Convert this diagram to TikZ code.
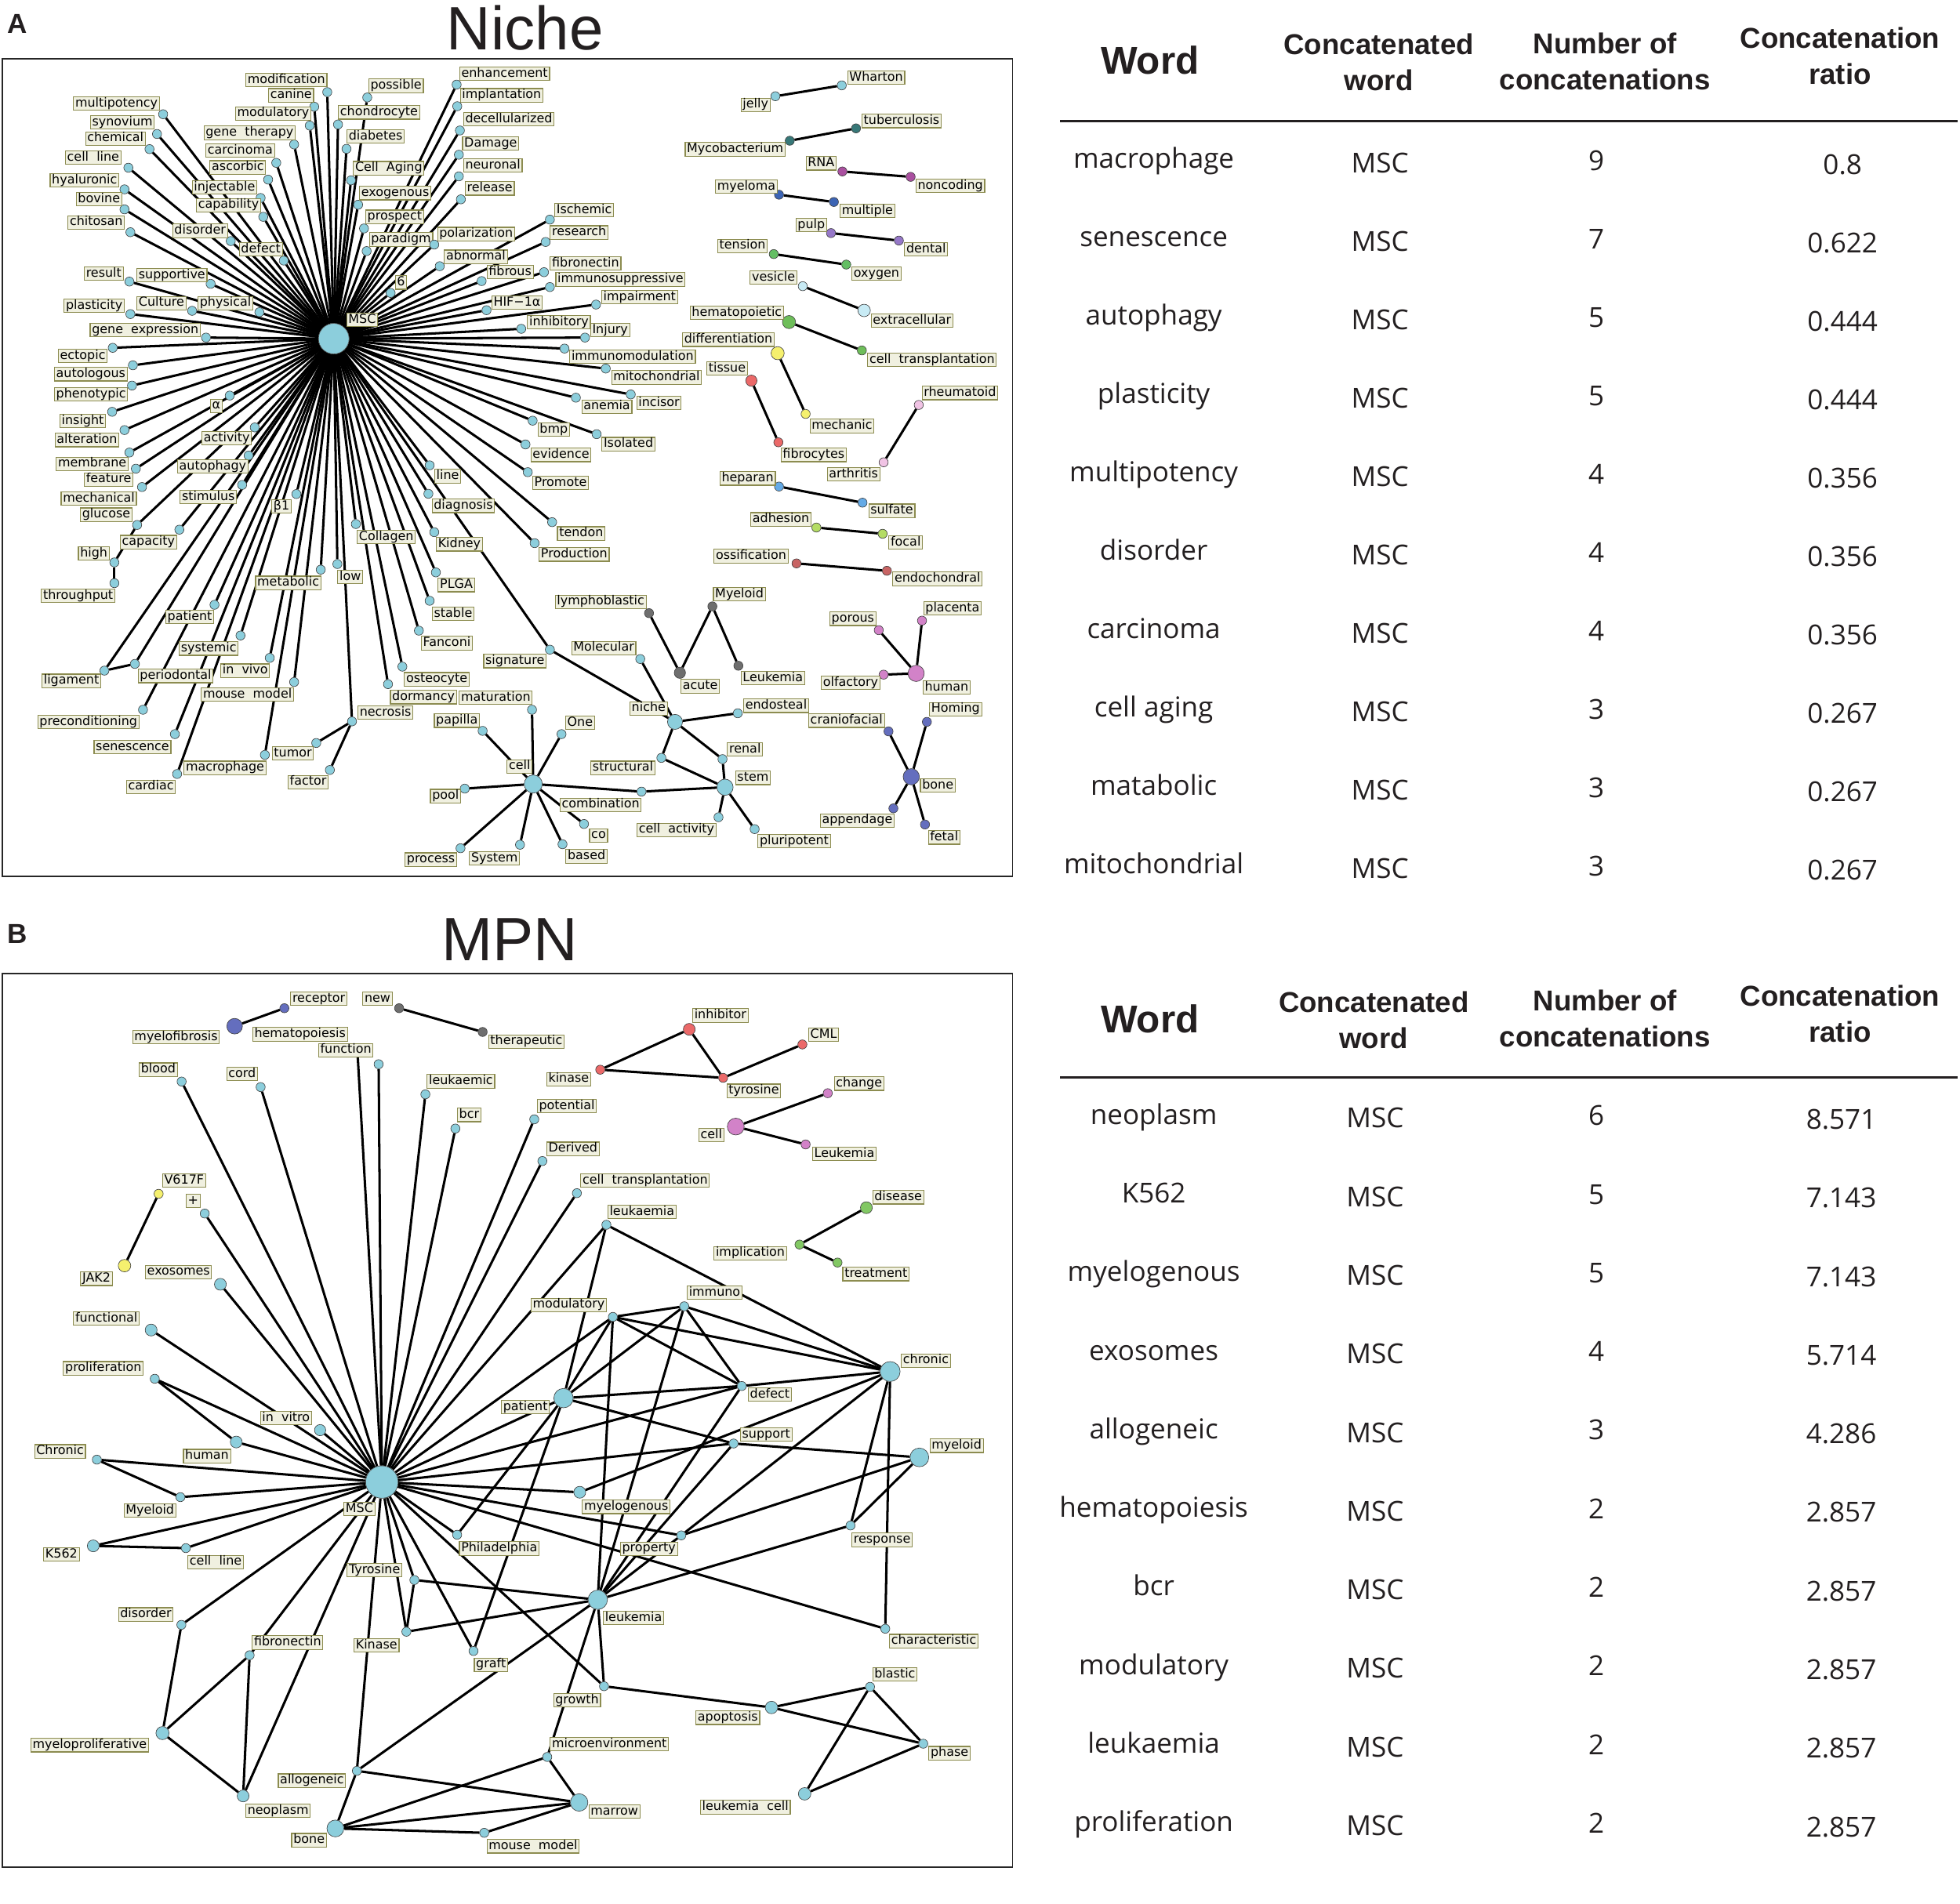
\documentclass[tikz,border=0pt]{standalone}
\usepackage{fontspec}
\setmainfont{Liberation Sans}
\newfontfamily\labfont{DejaVu Sans}
\newfontfamily\rowfont{Open Sans}
\pgfdeclarelayer{paper}
\pgfdeclarelayer{edges}
\pgfsetlayers{paper,edges,main}
\definecolor{cya}{RGB}{140,206,220}
\definecolor{labf}{RGB}{240,240,224}
\definecolor{labd}{RGB}{140,140,80}
\definecolor{teal2}{RGB}{55,120,120}
\definecolor{mag}{RGB}{170,80,160}
\definecolor{blu}{RGB}{60,100,180}
\definecolor{lav}{RGB}{150,120,200}
\definecolor{grn}{RGB}{100,190,100}
\definecolor{pale}{RGB}{200,235,245}
\definecolor{grn2}{RGB}{110,190,90}
\definecolor{grnB}{RGB}{130,200,100}
\definecolor{yel}{RGB}{245,240,110}
\definecolor{red2}{RGB}{235,105,105}
\definecolor{pinkp}{RGB}{240,195,228}
\definecolor{blu2}{RGB}{100,170,230}
\definecolor{ygrn}{RGB}{180,220,100}
\definecolor{dred}{RGB}{200,100,100}
\definecolor{gry}{RGB}{110,110,110}
\definecolor{pnk}{RGB}{210,130,200}
\definecolor{slate}{RGB}{100,110,190}
\definecolor{txt}{RGB}{35,31,32}
\tikzset{
  nd/.style={circle,draw=black!75,line width=0.4pt,fill=cya,minimum size=7.3pt,inner sep=0pt},
  lab/.style={draw=labd,fill=labf,line width=0.7pt,inner xsep=1.4pt,inner ysep=0.6pt,text height=7.4pt,text depth=2.2pt,anchor=west,font=\labfont\fontsize{10}{12}\selectfont},
  ed/.style={line width=1.9pt,black},
  frm/.style={line width=1.2pt,draw=black!85},
  hd/.style={font=\bfseries\fontsize{23}{29}\selectfont,align=center,text=txt},
  hdw/.style={font=\bfseries\fontsize{31}{33}\selectfont,text=txt},
  tcell/.style={font=\rowfont\fontsize{22}{24}\selectfont,text=txt,text height=16pt,text depth=5pt,inner sep=0pt},
  ttl/.style={font=\fontsize{49}{52}\selectfont,text=txt},
  pan/.style={font=\bfseries\fontsize{22}{24}\selectfont,text=txt},
  trule/.style={line width=1.6pt,draw=txt},
}
\newcommand\wnode[5][]{%
  \node[nd,#1] (#2) at (#3) {};
  \node[lab] (#2-l) at (#4) {#5};}
\begin{document}
\begin{tikzpicture}[x=1pt,y=-1pt]
\useasboundingbox (0,0) rectangle (1568,1523);
\begin{pgfonlayer}{paper}
\fill[white] (0,0) rectangle (1568,1523);
\end{pgfonlayer}
% titles
\node[pan] (panA) at (14,19) {A};
\node[ttl] (ttlA) at (420,22) {Niche};
\node[pan] (panB) at (14,747) {B};
\node[ttl] (ttlB) at (408,752) {MPN};
\draw[frm] (2,47) rectangle (810,701);
\draw[frm] (2,779) rectangle (810,1494);
% ================= Niche network =================
\wnode[minimum size=24.5pt]{AMSC}{267,271}{277,256}{MSC}
\wnode{Amodification}{261.8,73.7}{196.3,64.0}{modification}
\wnode{Acanine}{251.4,85.4}{214.5,76.3}{canine}
\wnode{Apossible}{293.8,78.0}{294.6,68.7}{possible}
\wnode{Amultipotency}{130.5,91.4}{58.5,82.8}{multipotency}
\wnode{Amodulatory}{247.8,100.5}{188,90.8}{modulatory}
\wnode{Achondrocyte}{270.4,99.6}{270.4,89.9}{chondrocyte}
\wnode{Asynovium}{125.6,107.2}{72,97.9}{synovium}
\wnode{Agenetherapy}{235.3,115.6}{162.8,106.3}{gene~~therapy}
\wnode{Adiabetes}{277.2,119.1}{277.2,109.1}{diabetes}
\wnode{Achemical}{119.6,119.3}{68.1,110.9}{chemical}
\wnode{Acarcinoma}{221,130.3}{164.3,120.6}{carcinoma}
\wnode{Acellline}{102.7,134.2}{52,126}{cell~~line}
\wnode{Aascorbic}{214.5,143.7}{167.7,134}{ascorbic}
\wnode{Acellaging}{280.8,144.3}{282.4,134.6}{Cell~~Aging}
\wnode{Ahyaluronic}{99.6,151.5}{39.8,144.3}{hyaluronic}
\wnode{Ainjectable}{208.5,158.4}{153.4,150}{injectable}
\wnode{Aexogenous}{286.5,163.8}{287.3,154.5}{exogenous}
\wnode{Abovine}{99.6,167.5}{60.6,159.5}{bovine}
\wnode{Acapability}{210.6,173.5}{156.8,164.2}{capability}
\wnode{Aprospect}{291.2,182.8}{292.2,173.5}{prospect}
\wnode{Achitosan}{104.3,185.8}{54.1,178}{chitosan}
\wnode{Adisorder}{184.6,192.9}{137.8,184.7}{disorder}
\wnode{Aparadigm}{293.3,200.9}{295.1,191.6}{paradigm}
\wnode{Apolarization}{347.4,195.7}{349.7,187.3}{polarization}
\wnode{Adefect}{227,208.5}{191.1,199.4}{defect}
\wnode{Aabnormal}{351.8,213.0}{355.2,205.5}{abnormal}
\wnode{Aresult}{103.5,225.3}{67.1,218.9}{result}
\wnode{Asupportive}{168.5,227.1}{109.2,220.2}{supportive}
\wnode{Afibrous}{385.3,224.9}{389.2,217.8}{fibrous}
\wnode{Asix}{312.5,234.4}{315.9,226}{6}
\wnode{Aplasticity}{104.3,251.3}{51,244.8}{plasticity}
\wnode{Aculture}{153.7,248.7}{109.2,242.6}{Culture}
\wnode{Aphysical}{207.5,249.8}{158.1,242.6}{physical}
\wnode{Ahif}{389.2,248.2}{393.1,242.2}{HIF−1α}
\wnode{Ageneexpression}{164.8,270.1}{71.8,264.2}{gene~~expression}
\wnode{Aectopic}{90.2,278.3}{46.3,284.7}{ectopic}
\wnode{Aautologous}{106.3,292.3}{43.2,299.4}{autologous}
\wnode{Aphenotypic}{105.6,308.5}{43.2,315.4}{phenotypic}
\wnode{Aalpha}{183.8,316.5}{168,324.7}{α}
\wnode{Ainsight}{89.7,329.5}{47.6,337}{insight}
\wnode{Aalteration}{99.6,344.1}{43.7,352.1}{alteration}
\wnode{Aactivity}{203.8,342}{161.2,350.6}{activity}
\wnode{Amembrane}{103.5,362.1}{44.7,371.1}{membrane}
\wnode{Aautophagy}{198.9,364.5}{141.7,373.3}{autophagy}
\wnode{Aline}{343.7,372.3}{347.4,381}{line}
\wnode{Afeature}{108.7,375}{67.1,383.7}{feature}
\wnode{Astimulus}{193.7,388}{143.8,397.7}{stimulus}
\wnode{Amechanical}{113.6,389.7}{48.6,399}{mechanical}
\wnode{Abeta}{237.1,395.3}{217.1,405.3}{β1}
\wnode{Adiagnosis}{342.7,395.1}{345.3,404.8}{diagnosis}
\wnode{Aglucose}{109.7,420}{64,411.8}{glucose}
\wnode{Acollagen}{284.7,419.3}{285.5,429.7}{Collagen}
\wnode{Akidney}{347.4,425.8}{348.7,435.5}{Kidney}
\wnode{Acapacity}{143.5,423.8}{95.9,433.8}{capacity}
\wnode{Ahigh}{91.5,450}{62.4,442.9}{high}
\wnode{Athroughput}{91.5,466.6}{32.8,476.8}{throughput}
\wnode{Alow}{269.9,451.3}{269.9,461.6}{low}
\wnode{Ametabolic}{256.6,455.8}{204.1,466.4}{metabolic}
\wnode{Aplga}{348.7,458}{350.2,468.1}{PLGA}
\wnode{Apatient}{171.6,483.9}{132.3,493.6}{patient}
\wnode{Astable}{343.7,480.7}{345.5,491}{stable}
\wnode{Afanconi}{335.1,504.6}{336.7,514.6}{Fanconi}
\wnode{Asystemic}{192.4,508.5}{143,518.9}{systemic}
\wnode{Ainvivo}{215.8,526.4}{176.3,536.6}{in~~vivo}
\wnode{Aligament}{83.5,536.6}{33.3,544.8}{ligament}
\wnode{Aperiodontal}{107.9,531.2}{110.2,540.9}{periodontal}
\wnode{Aosteocyte}{321.9,533.4}{323.2,543.5}{osteocyte}
\wnode{Amousemodel}{235.3,545.7}{160.7,555.6}{mouse~~model}
\wnode{Adormancy}{310.4,547.4}{312,557.8}{dormancy}
\wnode{Anecrosis}{281.6,577.2}{286,570.1}{necrosis}
\wnode{Aprecond}{114.4,567.9}{29.9,577.6}{preconditioning}
\wnode{Asenescence}{139.9,587.4}{74.9,597.7}{senescence}
\wnode{Atumor}{253,594.5}{217.4,602.9}{tumor}
\wnode{Amacrophage}{211.9,604}{146.9,614.4}{macrophage}
\wnode{Afactor}{263.9,616.1}{230.1,625.8}{factor}
\wnode{Acardiac}{141.7,619.3}{100.9,629.5}{cardiac}
\wnode{Aenhancement}{365.3,67.7}{367.4,59}{enhancement}
\wnode{Aimplantation}{365.8,85}{367.9,76.3}{implantation}
\wnode{Adecell}{367.9,104.4}{370.5,95.3}{decellularized}
\wnode{Adamage}{367.1,123.8}{369.7,114.7}{Damage}
\wnode{Aneuronal}{367.1,141.1}{370.5,132.5}{neuronal}
\wnode{Arelease}{368.7,159.5}{371.8,150.8}{release}
\wnode{Aischemic}{439.9,175.7}{443.5,168.1}{Ischemic}
\wnode{Aresearch}{436.5,193.6}{439.9,186}{research}
\wnode{Afibronectin}{435.2,217.8}{439.9,210.7}{fibronectin}
\wnode{Aimmunosupp}{439.9,229.7}{444.3,223.6}{immunosuppressive}
\wnode{Aimpairment}{476.8,243.7}{481,237.7}{impairment}
\wnode{Ainhibitory}{417,263.1}{421.7,257.7}{inhibitory}
\wnode{Ainjury}{468,270.1}{472.1,264.2}{Injury}
\wnode{Aimmunomod}{451.6,278.9}{455.5,285.4}{immunomodulation}
\wnode{Amito}{484.6,294.9}{489,302}{mitochondrial}
\wnode{Aanemia}{460.7,318.2}{465.1,325.4}{anemia}
\wnode{Aincisor}{504.6,315.6}{509,322.5}{incisor}
\wnode{Abmp}{426.1,336.6}{430,343.7}{bmp}
\wnode{Aisolated}{477.3,347.4}{481.2,355.4}{Isolated}
\wnode{Aevidence}{420.4,355.6}{424.3,364}{evidence}
\wnode{Apromote}{422.2,377.8}{425.8,386.3}{Promote}
\wnode{Atendon}{441.7,417.8}{445.6,426.9}{tendon}
\wnode{Aproduction}{427.7,434.6}{431,443.7}{Production}
\wnode{Asignature}{439.9,519.8}{386.6,529}{signature}
% clusters
\wnode{Awharton}{673.4,68.3}{677.8,62.3}{Wharton}
\wnode{Ajelly}{620.3,77}{592.5,83.9}{jelly}
\wnode[fill=teal2]{Atuberc}{684.8,102.7}{689.2,96.8}{tuberculosis}
\wnode[fill=teal2]{Amyco}{631.8,112.6}{547.8,119.5}{Mycobacterium}
\wnode[fill=mag]{Arna}{673.9,137.2}{644.5,130.7}{RNA}
\wnode[fill=mag]{Anoncoding}{728.5,141.5}{732.4,148.7}{noncoding}
\wnode[fill=blu]{Amyeloma}{623.2,155.8}{572,149.3}{myeloma}
\wnode[fill=blu]{Amultiple}{667.1,161.6}{671.8,168.7}{multiple}
\wnode[fill=lav]{Apulp}{664.8,186.5}{636.4,180}{pulp}
\wnode[fill=lav]{Adental}{719.1,192.5}{723.3,199.4}{dental}
\wnode[fill=grn]{Atension}{619,203.3}{573.8,196.8}{tension}
\wnode[fill=grn]{Aoxygen}{677,211.7}{681.2,218.9}{oxygen}
\wnode[fill=pale]{Avesicle}{642.2,229}{599.8,222.1}{vesicle}
\wnode[fill=pale,minimum size=10pt]{Aextra}{691.3,248.4}{696.5,256.7}{extracellular}
\wnode[fill=grn2,minimum size=10.5pt]{Ahemato}{631.2,257.7}{551.7,250.2}{hematopoietic}
\wnode[fill=grn2]{Acelltrans}{689.5,280.4}{693.9,288}{cell~~transplantation}
\wnode[fill=yel,minimum size=10.5pt]{Adiff}{622.1,282.6}{545.7,271.8}{differentiation}
\wnode[fill=yel]{Amechanic}{644.5,331.2}{647.6,340.9}{mechanic}
\wnode[fill=red2,minimum size=9pt]{Atissue}{601.1,304.6}{565.2,294.9}{tissue}
\wnode[fill=red2]{Afibrocytes}{622.7,353.9}{624.5,364}{fibrocytes}
\wnode[fill=pinkp]{Arheum}{735,324}{737.3,314.5}{rheumatoid}
\wnode[fill=pinkp]{Aarthritis}{706.9,369.9}{661.4,379.4}{arthritis}
\wnode[fill=blu2]{Aheparan}{623.2,389.3}{575.6,382.8}{heparan}
\wnode[fill=blu2]{Asulfate}{690,402.2}{694.7,408.7}{sulfate}
\wnode[fill=ygrn]{Aadhesion}{653.1,422.1}{600.3,415.6}{adhesion}
\wnode[fill=ygrn]{Afocal}{706.1,427.1}{710.8,434}{focal}
\wnode[fill=dred]{Aossif}{637.2,450.8}{570.9,445}{ossification}
\wnode[fill=dred]{Aendo}{709.5,456.7}{713.9,463.2}{endochondral}
\wnode[fill=gry]{Alympho}{519.2,490.6}{443.8,481.5}{lymphoblastic}
\wnode[fill=gry]{AmyeloidA}{569.9,485.2}{570.4,475.5}{Myeloid}
\wnode[fill=gry,minimum size=9pt]{Aacute}{543.9,538.3}{544.4,549.1}{acute}
\wnode[fill=gry]{AleukA}{590.7,532.7}{592.5,542.6}{Leukemia}
\wnode[fill=pnk]{Aplacenta}{737.6,496.6}{738.6,486.9}{placenta}
\wnode[fill=pnk]{Aporous}{703,504.2}{663.5,495.1}{porous}
\wnode[fill=pnk,minimum size=13pt]{AhumanA}{732.9,538.8}{738.1,550}{human}
\wnode[fill=pnk]{Aolfactory}{706.9,539.8}{656.7,546.3}{olfactory}
\wnode{Amolecular}{512.2,527.3}{457,518.5}{Molecular}
\wnode[minimum size=12pt]{Aniche}{540,577.6}{503.6,566.8}{niche}
\wnode{Aendosteal}{590.2,570.7}{594.6,564.7}{endosteal}
\wnode{Amaturation}{425.6,567.9}{367.1,558.2}{maturation}
\wnode{Aone}{449.2,587.4}{452.1,578.3}{One}
\wnode[minimum size=14.5pt]{AcellA}{426.6,627.3}{405.3,613.3}{cell}
\wnode{Astructural}{529.1,606.4}{472.4,614.4}{structural}
\wnode{Arenal}{578,607.4}{581.6,599.7}{renal}
\wnode[minimum size=13pt]{Astem}{580,629.9}{588.1,622.4}{stem}
\wnode{Acombination}{513.2,633.4}{447.7,644}{combination}
\wnode{Aco}{467.2,659.3}{471.3,668.4}{co}
\wnode{Abased}{450,675.5}{452.4,685.2}{based}
\wnode{Acellact}{574.8,653.9}{509.3,664}{cell~~activity}
\wnode{Apluri}{603.7,663.4}{606,673.1}{pluripotent}
\wnode[fill=slate]{Acranio}{710.8,585.2}{646.6,576.6}{craniofacial}
\wnode[fill=slate]{Ahoming}{741.5,577.6}{743.3,567.5}{Homing}
\wnode[fill=slate,minimum size=13pt]{AboneA}{729,621.5}{736,628.4}{bone}
\wnode[fill=slate]{Aappendage}{714.7,646.8}{655.9,656.5}{appendage}
\wnode[fill=slate]{Afetal}{740,659.7}{742.3,670.1}{fetal}
\wnode{Apapilla}{386.1,584.8}{347.1,576.6}{papilla}
\wnode{Apool}{371.8,631}{344,637}{pool}
\wnode{Aprocess}{368.4,678.7}{323.7,687.8}{process}
\wnode{Asystem}{416,675.9}{375.2,686.7}{System}
% ================= MPN network =================
\wnode[minimum size=26pt]{BMSC}{305.5,1185.8}{274.8,1207.4}{MSC}
\wnode[fill=slate]{Breceptor}{227.5,806.7}{232.2,799}{receptor}
\wnode[fill=slate,minimum size=12.5pt]{Bmyelofibrosis}{187.7,821.1}{105.8,829.9}{myelofibrosis}
\wnode[fill=gry]{Bnew}{319.3,806.7}{289.9,799}{new}
\wnode[fill=gry]{Btherapeutic}{386.1,825.7}{390.5,833.4}{therapeutic}
\wnode{Bhemat}{286,842}{201.8,827.6}{hematopoiesis}
\wnode{Bfunction}{302.9,851.5}{254.5,840.3}{function}
\wnode{Bblood}{145.3,865.4}{111,855.9}{blood}
\wnode{Bcord}{208.5,869.8}{181,859.4}{cord}
\wnode{Bleukaemic}{340.3,875.6}{341.4,865.2}{leukaemic}
\wnode{Bbcr}{364.3,903}{365.6,892.1}{bcr}
\wnode{Bpotential}{427.4,895.6}{429.5,885.1}{potential}
\wnode{Bderived}{433.9,929}{437,919.2}{Derived}
\wnode{Bcelltrans}{461.5,954.7}{464.3,944.7}{cell~~transplantation}
\wnode{Bleukaemia}{485.1,980}{485.9,969.6}{leukaemia}
\wnode[fill=yel]{Bv617f}{126.9,955.2}{129.7,944.7}{V617F}
\wnode[fill=yel,minimum size=10pt]{Bjak2}{99.6,1012.7}{64.2,1023.2}{JAK2}
\wnode{Bplus}{163.8,971}{148.5,961}{+}
\wnode[minimum size=9.5pt]{Bexosomes}{176.3,1027.6}{116,1017.8}{exosomes}
\wnode[minimum size=9.5pt]{Bfunctional}{120.9,1064.2}{58.5,1055}{functional}
\wnode{Bprolif}{123.8,1103.2}{50.4,1094.8}{proliferation}
\wnode[minimum size=9pt]{Binvitro}{256.1,1144.3}{208,1134.6}{in~~vitro}
\wnode[minimum size=9.5pt]{Bhuman}{189,1153.8}{146.4,1165.1}{human}
\wnode{BchronicL}{77.5,1167.9}{27.3,1161.3}{Chronic}
\wnode{BmyeloidL}{144.3,1197.9}{98.8,1208.8}{Myeloid}
\wnode[minimum size=9.5pt]{Bk562}{74.6,1236.9}{34.6,1243.9}{K562}
\wnode{Bcellline}{148.7,1238.7}{150,1249.8}{cell~~line}
\wnode{BtyrosineC}{331.5,1264.2}{277.4,1256.4}{Tyrosine}
\wnode{Bphila}{365.7,1228}{367.2,1239}{Philadelphia}
\wnode{Bdisorder}{145.1,1300.1}{94.4,1291.8}{disorder}
\wnode{Bfibronectin}{199.7,1324.4}{201.5,1314.3}{fibronectin}
\wnode{BkinaseC}{325.1,1305.6}{282.9,1316.6}{Kinase}
\wnode{Bgraft}{378.8,1321}{379.1,1332}{graft}
\wnode[minimum size=10.5pt]{Bmyeloprolif}{130,1386.7}{24.4,1396.4}{myeloproliferative}
\wnode{Ballogeneic}{285.5,1416.9}{222.3,1424.7}{allogeneic}
\wnode[minimum size=9.5pt]{Bneoplasm}{194.5,1437}{196.3,1448.8}{neoplasm}
\wnode[minimum size=13.5pt]{Bbone}{268.3,1463}{233,1472.4}{bone}
\wnode{Bmousemodel}{387.4,1466.5}{389.2,1477.3}{mouse~~model}
\wnode[fill=red2,minimum size=9.5pt]{Binhibitor}{551.4,823.6}{553.8,812.5}{inhibitor}
\wnode[fill=red2]{Bcml}{641.9,835.7}{646.6,828}{CML}
\wnode[fill=red2]{Bkinase}{480.2,855.9}{437,863.5}{kinase}
\wnode[fill=red2]{Btyrosine}{578.5,862.4}{581.1,872.8}{tyrosine}
\wnode[fill=pnk]{Bchange}{662.2,874.7}{667.1,867}{change}
\wnode[fill=pnk,minimum size=13.5pt]{Bcell}{588.6,901.4}{558.7,908.3}{cell}
\wnode[fill=pnk]{BleukemiaP}{644.5,915.7}{649.7,923.2}{Leukemia}
\wnode[fill=grnB,minimum size=9.5pt]{Bdisease}{693.1,966.3}{697.8,958}{disease}
\wnode[fill=grnB]{Bimplication}{639.6,995.8}{570.9,1002.7}{implication}
\wnode[fill=grnB]{Btreatment}{670,1010.2}{673.9,1019.4}{treatment}
\wnode{Bmodulatory}{490.3,1053.7}{424.5,1044.1}{modulatory}
\wnode{Bimmuno}{547.4,1045.2}{549.4,1034.3}{immuno}
\wnode[minimum size=15.5pt]{Bpatient}{450.8,1118.7}{400.8,1125.9}{patient}
\wnode{Bdefect}{593.4,1109}{598.3,1115.8}{defect}
\wnode[minimum size=16pt]{Bchronic}{712.1,1097.4}{720.7,1088.6}{chronic}
\wnode{Bsupport}{586.9,1155}{592,1147.9}{support}
\wnode[minimum size=15pt]{Bmyeloid}{735.5,1166.1}{743.6,1156.8}{myeloid}
\wnode[minimum size=9.5pt]{Bmyelogenous}{463.8,1194}{465.6,1205.7}{myelogenous}
\wnode{Bproperty}{545,1228.5}{496,1239.2}{property}
\wnode{Bresponse}{680.4,1220.6}{681.2,1232.1}{response}
\wnode[minimum size=15.5pt]{Bleukemia}{478.2,1280}{482.3,1294.7}{leukemia}
\wnode{Bcharacteristic}{708.2,1303.2}{711.3,1313.1}{characteristic}
\wnode{Bblastic}{696,1349.7}{697.8,1339.7}{blastic}
\wnode{Bgrowth}{483.2,1349.2}{442.5,1360.3}{growth}
\wnode[minimum size=10pt]{Bapoptosis}{617.2,1366.2}{556.4,1374.4}{apoptosis}
\wnode{Bphase}{738.6,1395.2}{742.8,1402.8}{phase}
\wnode{Bmicroenv}{437.8,1405.8}{439.9,1395.7}{microenvironment}
\wnode[minimum size=14pt]{Bmarrow}{463.3,1442.2}{470.8,1449.5}{marrow}
\wnode[minimum size=10pt]{Bleukcell}{643.7,1435.3}{560,1446}{leukemia~~cell}
% ================= edges =================
\begin{pgfonlayer}{edges}
\foreach \n in {Amodification,Acanine,Apossible,Amultipotency,Amodulatory,Achondrocyte,Asynovium,Agenetherapy,Adiabetes,Achemical,Acarcinoma,Acellline,Aascorbic,Acellaging,Ahyaluronic,Ainjectable,Aexogenous,Abovine,Acapability,Aprospect,Achitosan,Adisorder,Aparadigm,Apolarization,Adefect,Aabnormal,Aresult,Asupportive,Afibrous,Asix,Aplasticity,Aculture,Aphysical,Ahif,Ageneexpression,Aectopic,Aautologous,Aphenotypic,Aalpha,Ainsight,Aalteration,Aactivity,Amembrane,Aautophagy,Aline,Afeature,Astimulus,Amechanical,Abeta,Adiagnosis,Aglucose,Acollagen,Akidney,Acapacity,Alow,Ametabolic,Aplga,Apatient,Astable,Afanconi,Asystemic,Ainvivo,Aligament,Aperiodontal,Aosteocyte,Amousemodel,Adormancy,Anecrosis,Aprecond,Asenescence,Amacrophage,Acardiac,Aenhancement,Aimplantation,Adecell,Adamage,Aneuronal,Arelease,Aischemic,Aresearch,Afibronectin,Aimmunosupp,Aimpairment,Ainhibitory,Ainjury,Aimmunomod,Amito,Aanemia,Aincisor,Abmp,Aisolated,Aevidence,Apromote,Atendon,Aproduction,Asignature}
  \draw[ed] (AMSC) -- (\n);
\foreach \a/\b in {Ahigh/Aglucose,Ahigh/Athroughput,Aligament/Aperiodontal,Atumor/Anecrosis,Afactor/Anecrosis,Awharton/Ajelly,Atuberc/Amyco,Arna/Anoncoding,Amyeloma/Amultiple,Apulp/Adental,Atension/Aoxygen,Avesicle/Aextra,Ahemato/Acelltrans,Adiff/Amechanic,Atissue/Afibrocytes,Arheum/Aarthritis,Aheparan/Asulfate,Aadhesion/Afocal,Aossif/Aendo,Alympho/Aacute,AmyeloidA/Aacute,AmyeloidA/AleukA,Aporous/AhumanA,Aplacenta/AhumanA,Aolfactory/AhumanA,Acranio/AboneA,Ahoming/AboneA,Aappendage/AboneA,Afetal/AboneA,Asignature/Aniche,Amolecular/Aniche,Aniche/Aendosteal,Aniche/Astructural,Aniche/Arenal,Astructural/Astem,Arenal/Astem,Acombination/Astem,Acellact/Astem,Apluri/Astem,AcellA/Aone,AcellA/Amaturation,AcellA/Acombination,AcellA/Aco,AcellA/Abased,AcellA/Apool,AcellA/Apapilla,AcellA/Aprocess,AcellA/Asystem}
  \draw[ed] (\a) -- (\b);
\foreach \n in {Bblood,Bcord,Bfunction,Bhemat,Bleukaemic,Bbcr,Bpotential,Bderived,Bcelltrans,Bleukaemia,Bplus,Bexosomes,Bfunctional,Bprolif,Binvitro,Bhuman,BchronicL,BmyeloidL,Bk562,Bcellline,Bdisorder,Bfibronectin,Bneoplasm,BtyrosineC,BkinaseC,Ballogeneic,Bgraft,Bphila,Bgrowth,Bproperty,Bmyelogenous,Bsupport,Bdefect,Bcharacteristic,Bpatient,Bmodulatory}
  \draw[ed] (BMSC) -- (\n);
\foreach \a/\b in {Breceptor/Bmyelofibrosis,Bnew/Btherapeutic,Binhibitor/Bkinase,Binhibitor/Btyrosine,Bkinase/Btyrosine,Btyrosine/Bcml,Bcell/Bchange,Bcell/BleukemiaP,Bdisease/Bimplication,Bimplication/Btreatment,Bv617f/Bjak2,Bprolif/Bhuman,BchronicL/BmyeloidL,Bk562/Bcellline,Bdisorder/Bmyeloprolif,Bfibronectin/Bmyeloprolif,Bfibronectin/Bneoplasm,Bmyeloprolif/Bneoplasm,BtyrosineC/BkinaseC,BtyrosineC/Bleukemia,BkinaseC/Bleukemia,Ballogeneic/Bbone,Ballogeneic/Bleukemia,Ballogeneic/Bmarrow,Bgraft/Bpatient,Bbone/Bmousemodel,Bbone/Bmarrow,Bbone/Bmicroenv,Bmicroenv/Bmarrow,Bmousemodel/Bmarrow,Bmicroenv/Bleukemia,Bgrowth/Bleukemia,Bgrowth/Bapoptosis,Bapoptosis/Bblastic,Bapoptosis/Bphase,Bblastic/Bphase,Bblastic/Bleukcell,Bphase/Bleukcell,Bleukemia/Bresponse,Bleukemia/Bmodulatory,Bleukemia/Bimmuno,Bleukemia/Bdefect,Bleukemia/Bsupport,Bleukemia/Bproperty,Bphila/Bpatient,Bleukaemia/Bpatient,Bleukaemia/Bchronic,Bmodulatory/Bimmuno,Bmodulatory/Bchronic,Bmodulatory/Bdefect,Bmodulatory/Bpatient,Bimmuno/Bchronic,Bimmuno/Bdefect,Bimmuno/Bpatient,Bpatient/Bdefect,Bpatient/Bsupport,Bdefect/Bchronic,Bchronic/Bresponse,Bchronic/Bcharacteristic,Bchronic/Bproperty,Bchronic/Bmyelogenous,Bmyeloid/Bsupport,Bmyeloid/Bproperty,Bmyeloid/Bresponse}
  \draw[ed] (\a) -- (\b);
\end{pgfonlayer}
% ================= tables =================
\node[hdw] (hA1) at (920,48) {Word};
\node[hd] (hA2) at (1103,50) {Concatenated\\word};
\node[hd] (hA3) at (1284,49) {Number of\\concatenations};
\node[hd] (hA4) at (1472,45) {Concatenation\\ratio};
\draw[trule] (848,97) -- (1566,97);
\foreach \w/\n/\r [count=\i from 0] in {macrophage/9/0.8,senescence/7/0.622,autophagy/5/0.444,plasticity/5/0.444,multipotency/4/0.356,disorder/4/0.356,carcinoma/4/0.356,cell aging/3/0.267,matabolic/3/0.267,mitochondrial/3/0.267}{
  \pgfmathsetmacro\yy{129+62.7*\i}
  \node[tcell] (tAw\i) at (923,\yy) {\w};
  \node[tcell] (tAc\i) at (1104,\yy+4) {MSC};
  \node[tcell] (tAn\i) at (1277,\yy+2) {\n};
  \node[tcell] (tAr\i) at (1474,\yy+5) {\r};
}
\node[hdw] (hB1) at (920,815) {Word};
\node[hd] (hB2) at (1099,816) {Concatenated\\word};
\node[hd] (hB3) at (1284,815) {Number of\\concatenations};
\node[hd] (hB4) at (1472,811) {Concatenation\\ratio};
\draw[trule] (848,862) -- (1566,862);
\foreach \w/\n/\r [count=\i from 0] in {neoplasm/6/8.571,K562/5/7.143,myelogenous/5/7.143,exosomes/4/5.714,allogeneic/3/4.286,hematopoiesis/2/2.857,bcr/2/2.857,modulatory/2/2.857,leukaemia/2/2.857,proliferation/2/2.857}{
  \pgfmathsetmacro\yy{894+62.9*\i}
  \node[tcell] (tBw\i) at (923,\yy) {\w};
  \node[tcell] (tBc\i) at (1100,\yy+3) {MSC};
  \node[tcell] (tBn\i) at (1277,\yy+1) {\n};
  \node[tcell] (tBr\i) at (1473,\yy+4) {\r};
}
\end{tikzpicture}
\end{document}
